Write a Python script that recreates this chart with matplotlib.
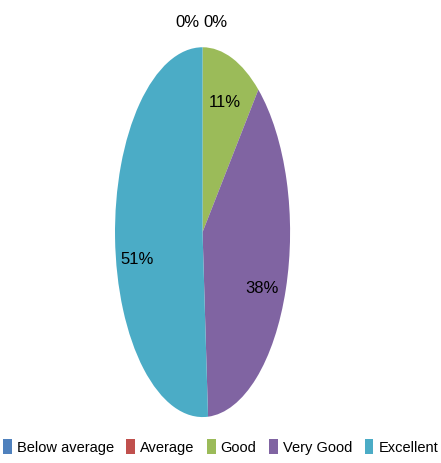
from matplotlib import pyplot as plt
from matplotlib.patches import Patch

categories = ["Below average", "Average", "Good", "Very Good", "Excellent"]
shares = [0, 0, 11, 38, 51]
colors = ["#4F81BD", "#C0504D", "#9BBB59", "#8064A2", "#4BACC6"]

plt.rcParams['font.family'] = ['Liberation Sans', 'DejaVu Sans']

fig = plt.figure(figsize=(4.41, 4.64), dpi=100)
# the original chart is stretched vertically, so the pie is an ellipse
ax = fig.add_axes([0.2608, 0.099, 0.397, 0.797])

wedges, _, autotexts = ax.pie(shares, colors=colors, startangle=90, counterclock=False,
                              autopct=lambda p: f"{p:.0f}%" if p > 0 else "",
                              pctdistance=0.75, wedgeprops=dict(linewidth=0),
                              textprops=dict(fontsize=12, color="black"))
ax.set_aspect('auto')
ax.set_xlim(-1, 1)
ax.set_ylim(-1, 1)

# nudge labels a little lower, as excel placed them
nudge = {3: (-0.03, -0.07), 4: (0.0, -0.12)}
for i, (dx, dy) in nudge.items():
    x, y = autotexts[i].get_position()
    autotexts[i].set_position((x + dx, y + dy))

# zero-share labels sit above the pie
zero = [s for s in shares if s == 0]
ax.text(-0.03, 1.14, "%d%%" % zero[0], ha="right", va="center", fontsize=12)
ax.text(0.01, 1.14, "%d%%" % zero[1], ha="left", va="center", fontsize=12)

handles = [Patch(facecolor=c, edgecolor="none") for c in colors]
fig.legend(handles, categories, loc="center", bbox_to_anchor=(0.5, 0.036), ncol=5,
           frameon=False, fontsize=10.5, handlelength=0.6, handleheight=1.2,
           handletextpad=0.35, columnspacing=0.85, borderpad=0)

plt.savefig("out.png", dpi=100)
plt.close()
